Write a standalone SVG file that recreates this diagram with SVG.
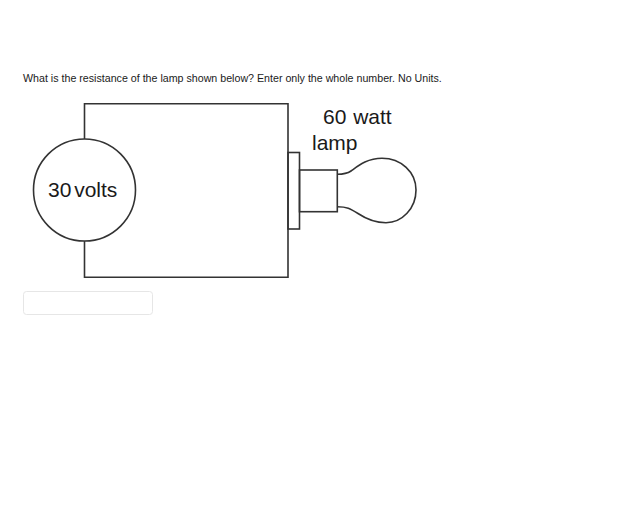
<svg xmlns="http://www.w3.org/2000/svg" width="624" height="509" viewBox="0 0 624 509">
<style>
text{font-family:"Liberation Sans",Arial,sans-serif;fill:#1a1a1a}
.l{fill:none;stroke:#333;stroke-width:1.6}
.d{font-size:21px}
</style>
<rect width="624" height="509" fill="#fff"/>
<text x="23" y="82" font-size="10.67" fill="#111">What is the resistance of the lamp shown below? Enter only the whole number. No Units.</text>
<g id="connectors">
<path class="l" d="M84.5 139V103.700H288V277.300H84.500V241"/>
</g>
<g id="source">
<circle class="l" cx="84.5" cy="190" r="51" fill="#fff"/>
<text class="d" x="48" y="197" word-spacing="-3">30 volts</text>
</g>
<g id="lamp">
<rect class="l" x="288" y="152.5" width="11.5" height="76.5"/>
<rect class="l" x="299.5" y="170" width="37.8" height="41.7"/>
<path class="l" d="M337.3 174.300C343 174.300 347 173.800 351 171C358 166 367 158.300 382 158.300C401 158.300 416 172 416 190C416 208.500 402 222.700 386 222.700C373 222.700 364 217.500 358 213.500C350 208.500 347 206.700 337.300 206.700"/>
<text class="d" x="323" y="124" word-spacing="1">60 watt</text>
<text class="d" x="312" y="150">lamp</text>
</g>
<g id="answer-box">
<rect x="23.500" y="291.500" width="129" height="23" rx="3" fill="#fff" stroke="#e6e6e6"/>
</g>
</svg>
